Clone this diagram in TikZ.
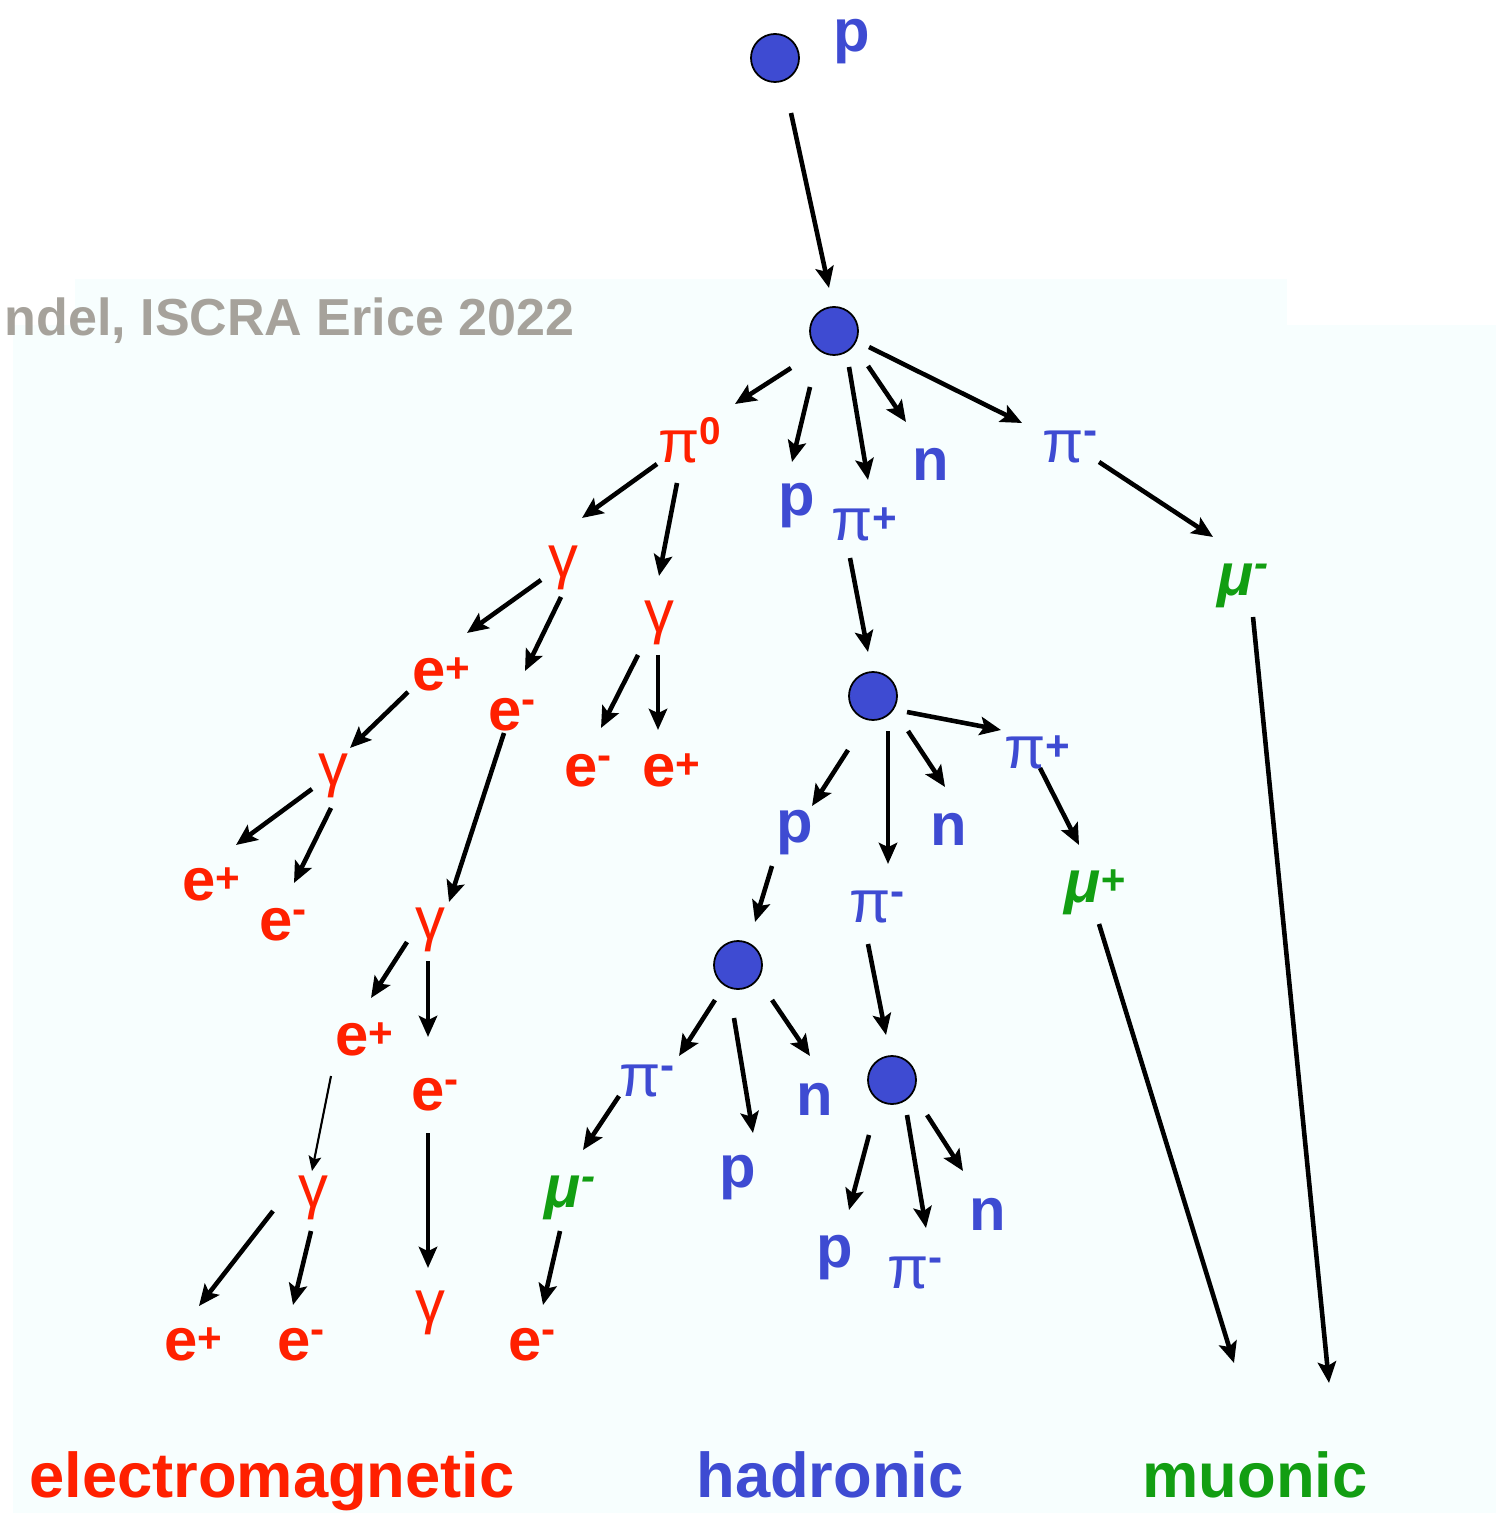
\documentclass[tikz,border=0pt]{standalone}
\usepackage{fontspec}
\setmainfont{Liberation Sans}
\usetikzlibrary{arrows.meta}

\definecolor{emred}{RGB}{255,32,0}
\definecolor{hadblue}{RGB}{62,75,210}
\definecolor{mugreen}{RGB}{18,158,18}
\definecolor{credgray}{RGB}{166,162,155}
\definecolor{bgcyan}{RGB}{247,254,254}

\newcommand{\chplus}{\raisebox{0.08cm}{\fontsize{12}{12}\selectfont\bfseries +}}
\newcommand{\chminus}{\raisebox{0.17cm}{\fontsize{12}{12}\selectfont\bfseries -}}
\newcommand{\chzero}{\raisebox{0.17cm}{\fontsize{11}{11}\selectfont\bfseries 0}}

\tikzset{
  blob/.style={circle, draw=black, line width=0.5pt, fill=hadblue, minimum size=0.48cm, inner sep=0pt},
  part/.style={inner sep=0pt, text height=0.32cm, text depth=0pt, font=\fontsize{17}{17}\selectfont\bfseries},
  emtxt/.style={part, text=emred},
  hadtxt/.style={part, text=hadblue},
  mutxt/.style={part, text=mugreen, font=\fontsize{17}{17}\selectfont\bfseries\itshape},
  greek/.style={font=\fontsize{17}{17}\selectfont\mdseries},
  arr/.style={-{Stealth[length=6pt,width=5.2pt,inset=1.2pt]}, line width=1.3pt},
  thinarr/.style={-{Stealth[length=4.2pt,width=3.6pt,inset=0.8pt]}, line width=0.6pt},
  kind/.style={anchor=base, font=\fontsize{18}{18}\selectfont\bfseries}
}

\begin{document}
\begin{tikzpicture}[x=0.01cm, y=-0.01cm]
    \useasboundingbox (0,0) rectangle (1496,1513);
    \fill[bgcyan] (75,279) rectangle (1287,325);
    \fill[bgcyan] (13,325) rectangle (1496,1513);

    \node[anchor=base west, inner sep=0pt, text=credgray, font=\fontsize{14.8}{15}\selectfont\bfseries]
    (credit) at (4,336) {ndel, ISCRA Erice 2022};

    \node[blob] (top) at (775,58) {};
    \node[hadtxt] (ptop) at (852,36) {p};
    \node[blob] (b2) at (834,331) {};
    \node[emtxt,greek] (pi0) at (690,446) {π\chzero};
    \node[hadtxt] (p1) at (797,499) {p};
    \node[hadtxt,greek] (pip1) at (864,524) {π\chplus};
    \node[hadtxt] (n1) at (931,464) {n};
    \node[hadtxt,greek] (pim1) at (1070,446) {π\chminus};
    \node[mutxt] (mum1) at (1243,579) {μ\chminus};

    \node[emtxt,greek] (g1) at (563,561) {γ};
    \node[emtxt,greek] (g2) at (659,616) {γ};
    \node[emtxt] (ea) at (441,674) {e\chplus};
    \node[emtxt] (ema) at (512,714) {e\chminus};
    \node[emtxt] (emb) at (588,770) {e\chminus};
    \node[emtxt] (epb) at (671,770) {e\chplus};
    \node[emtxt,greek] (g3) at (333,769) {γ};
    \node[emtxt] (epc) at (211,884) {e\chplus};
    \node[emtxt] (emc) at (283,924) {e\chminus};
    \node[emtxt,greek] (g4) at (430,923) {γ};
    \node[emtxt] (epd) at (364,1039) {e\chplus};
    \node[emtxt] (emd) at (435,1094) {e\chminus};
    \node[emtxt,greek] (g5) at (313,1191) {γ};
    \node[emtxt] (epe) at (193,1344) {e\chplus};
    \node[emtxt] (eme) at (301,1344) {e\chminus};
    \node[emtxt,greek] (g6) at (430,1306) {γ};

    \node[blob] (b3) at (873,696) {};
    \node[hadtxt] (p3) at (795,826) {p};
    \node[hadtxt,greek] (pim3) at (877,906) {π\chminus};
    \node[hadtxt] (n3) at (949,829) {n};
    \node[hadtxt,greek] (pip3) at (1037,752) {π\chplus};
    \node[mutxt] (mup) at (1095,886) {μ\chplus};
    \node[blob] (b4) at (738,965) {};
    \node[hadtxt,greek] (pim4) at (647,1080) {π\chminus};
    \node[hadtxt] (p4) at (738,1171) {p};
    \node[hadtxt] (n4) at (815,1099) {n};
    \node[mutxt] (mum4) at (570,1191) {μ\chminus};
    \node[emtxt] (emf) at (532,1344) {e\chminus};
    \node[blob] (b5) at (892,1080) {};
    \node[hadtxt] (p5) at (835,1251) {p};
    \node[hadtxt,greek] (pim5) at (915,1272) {π\chminus};
    \node[hadtxt] (n5) at (988,1214) {n};

    \coordinate (endmup) at (1234,1363);
    \coordinate (endmum) at (1329,1383);

    \foreach \from/\to/\sx/\sy/\ex/\ey in {
        top/b2/16/55/-5/-43,
        b2/pi0/-43/37/45/-42,
        b2/p1/-24/56/-5/-37,
        b2/pip1/15/36/4/-44,
        b2/n1/34/35/-25/-42,
        b2/pim1/35/16/-48/-23,
        pim1/mum1/29/16/-30/-42,
        mum1/endmum/10/38/0/0,
        pi0/g1/-33/18/19/-43,
        pi0/g2/-13/37/0/-40,
        g1/ea/-22/19/26/-41,
        g1/ema/-2/36/13/-43,
        g2/emb/-21/39/13/-42,
        g2/epb/-1/39/-13/-40,
        ea/g3/-33/18/17/-21,
        g3/epc/-21/20/25/-39,
        g3/emc/-2/39/11/-41,
        ema/g4/-8/19/19/-21,
        g4/epd/-23/19/7/-41,
        g4/emd/-2/38/-7/-57,
        g5/epe/-40/20/6/-38,
        g5/eme/-2/40/-8/-39,
        emd/g6/-7/39/-2/-38,
        pip1/b3/-14/34/-5/-44,
        b3/p3/-25/54/17/-20,
        b3/pim3/15/35/11/-42,
        b3/n3/35/35/-4/-42,
        b3/pip3/34/16/-36/-22,
        pip3/mup/3/16/-16/-41,
        mup/endmup/4/38/0/0,
        p3/b4/-23/40/17/-43,
        b4/pim4/-23/35/32/-24,
        b4/p4/-4/53/15/-38,
        b4/n4/34/35/-5/-43,
        pim4/mum4/-28/16/13/-41,
        mum4/emf/-10/40/11/-39,
        pim3/b5/-9/38/-6/-45,
        b5/p5/-23/55/14/-41,
        b5/pim5/15/35/11/-44,
        b5/n5/35/35/-25/-43
    }{
        \draw[arr] ([shift={(\sx,\sy)}]\from.center) -- ([shift={(\ex,\ey)}]\to.center);
    }
    \draw[thinarr] ([shift={(-33,37)}]epd.center) -- ([shift={(-1,-20)}]g5.center);

    \node[kind, text=emred] (emlab) at (272,1497) {electromagnetic};
    \node[kind, text=hadblue] (hadlab) at (830,1497) {hadronic};
    \node[kind, text=mugreen] (mulab) at (1255,1497) {muonic};
\end{tikzpicture}
\end{document}
